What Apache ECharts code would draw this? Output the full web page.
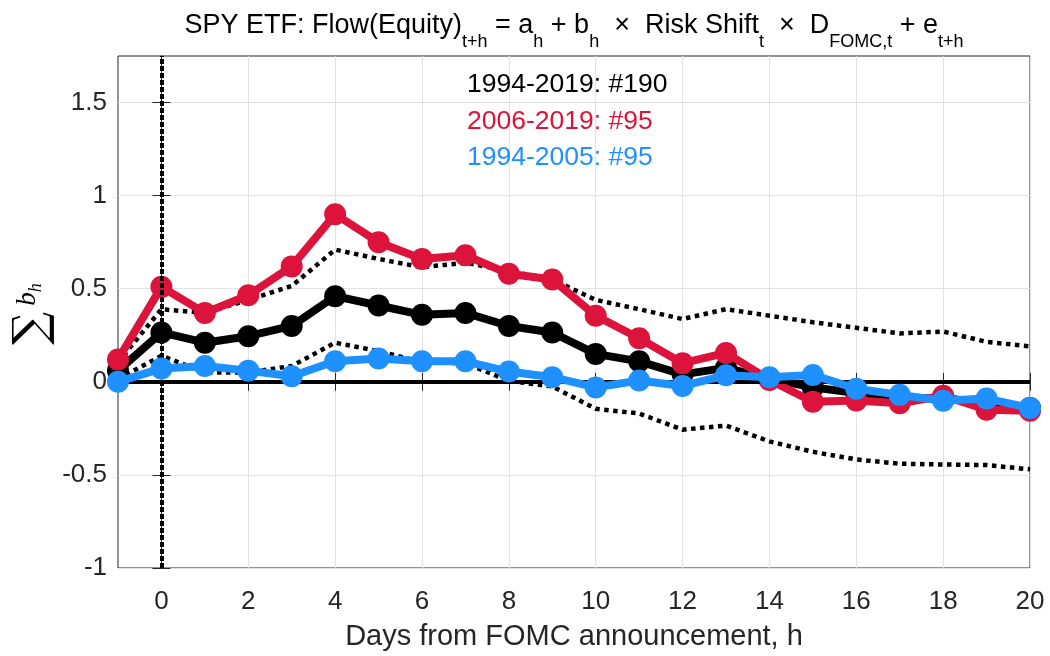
<!DOCTYPE html>
<html>
<head>
<meta charset="utf-8">
<script src="https://cdn.jsdelivr.net/npm/echarts@6/dist/echarts.min.js"></script>
<style>html,body{margin:0;padding:0;background:#fff;}#c{width:1050px;height:656px;}</style>
</head>
<body>
<div id="c"></div>
<script>
const horizons = [-1,0,1,2,3,4,5,6,7,8,9,10,11,12,13,14,15,16,17,18,19,20];
const full19942019 = [0.06,0.265,0.21,0.245,0.30,0.46,0.41,0.36,0.37,0.30,0.265,0.15,0.11,0.04,0.075,0.017,-0.03,-0.06,-0.09,-0.087,-0.115,-0.14];
const upperBand = [0.105,0.39,0.37,0.44,0.515,0.71,0.66,0.615,0.64,0.595,0.55,0.44,0.39,0.337,0.39,0.355,0.32,0.29,0.26,0.27,0.215,0.19];
const lowerBand = [0.015,0.14,0.05,0.05,0.085,0.21,0.165,0.105,0.10,0.005,-0.025,-0.145,-0.17,-0.257,-0.235,-0.32,-0.376,-0.417,-0.44,-0.444,-0.447,-0.47];
const late20062019 = [0.12,0.51,0.37,0.465,0.62,0.90,0.75,0.66,0.68,0.58,0.55,0.355,0.234,0.10,0.155,0.01,-0.107,-0.10,-0.115,-0.075,-0.15,-0.155];
const early19942005 = [0.0,0.072,0.085,0.06,0.03,0.11,0.125,0.11,0.11,0.055,0.025,-0.03,0.007,-0.022,0.035,0.025,0.037,-0.037,-0.07,-0.102,-0.09,-0.14];
const xTickValues = [0,2,4,6,8,10,12,14,16,18,20];
const yTickValues = [-1,-0.5,0,0.5,1,1.5];
const legendLabels = ['1994-2019: #190','2006-2019: #95','1994-2005: #95'];

const RED = '#DC143C', BLUE = '#1E90FF', INK = '#262626';
const pairs = arr => horizons.map((h,i)=>[h,arr[i]]);

const chart = echarts.init(document.getElementById('c'), null, {renderer:'canvas'});
const FONT = 'Liberation Sans';
const option = {
  animation: false,
  backgroundColor: '#fff',
  grid: {left:118, right:20, top:56, bottom:86, show:true, borderColor:INK, borderWidth:1, backgroundColor:'#fff'},
  xAxis: [{
    type:'value', min:-1, max:20, interval:1,
    axisLine:{show:true, lineStyle:{color:INK, width:1}},
    axisTick:{show:true, inside:true, length:9, customValues:xTickValues, lineStyle:{color:INK}},
    axisLabel:{customValues:xTickValues, fontSize:26, fontFamily:FONT, color:INK, margin:21},
    splitLine:{show:true, lineStyle:{color:'#e2e2e2', width:1}},
    name:'Days from FOMC announcement, h', nameLocation:'middle', nameGap:54,
    nameTextStyle:{fontSize:29, fontFamily:FONT, color:INK}
  },{
    type:'value', min:-1, max:20, interval:1, position:'top',
    axisLine:{show:true, lineStyle:{color:INK, width:1}},
    axisTick:{show:true, inside:true, length:9, customValues:xTickValues, lineStyle:{color:INK}},
    axisLabel:{show:false}, splitLine:{show:false}
  }],
  yAxis: [{
    type:'value', min:-1, max:1.75, interval:0.5,
    axisLine:{show:true, lineStyle:{color:INK, width:1}},
    axisTick:{show:true, inside:true, length:9, customValues:yTickValues, lineStyle:{color:INK}},
    axisLabel:{customValues:yTickValues, fontSize:26, fontFamily:FONT, color:INK, margin:11},
    splitLine:{show:true, lineStyle:{color:'#e2e2e2', width:1}}
  },{
    type:'value', min:-1, max:1.75, interval:0.5, position:'right',
    axisLine:{show:true, lineStyle:{color:INK, width:1}},
    axisTick:{show:true, inside:true, length:9, customValues:yTickValues, lineStyle:{color:INK}},
    axisLabel:{show:false}, splitLine:{show:false}
  }],
  series: [
    {type:'line', name:'upper', data:pairs(upperBand), z:2, symbol:'none',
     lineStyle:{color:'#000', width:4.5, type:'dotted'},
     markLine:{silent:true, symbol:'none', label:{show:false}, lineStyle:{color:'#000', width:4, type:'solid'}, data:[{yAxis:0}]}},
    {type:'line', name:'lower', data:pairs(lowerBand), z:2, symbol:'none',
     lineStyle:{color:'#000', width:4.5, type:'dotted'}},
    {type:'line', name:legendLabels[0], data:pairs(full19942019), z:3, symbol:'circle', symbolSize:22,
     lineStyle:{color:'#000', width:8}, itemStyle:{color:'#000', borderWidth:0}},
    {type:'line', name:legendLabels[1], data:pairs(late20062019), z:4, symbol:'circle', symbolSize:22,
     lineStyle:{color:RED, width:8}, itemStyle:{color:RED, borderWidth:0}},
    {type:'line', name:legendLabels[2], data:pairs(early19942005), z:5, symbol:'circle', symbolSize:22,
     lineStyle:{color:BLUE, width:8}, itemStyle:{color:BLUE, borderWidth:0},
     markLine:{silent:true, symbol:'none', label:{show:false}, lineStyle:{color:'#000', width:4, type:[5,2]}, data:[{xAxis:0}]}}
  ],
  graphic: [
    {type:'text', left:467, top:71, z:100, style:{text:legendLabels[0], fill:'#000', font:'26.5px '+FONT}},
    {type:'text', left:467, top:108, z:100, style:{text:legendLabels[1], fill:RED, font:'26.5px '+FONT}},
    {type:'text', left:467, top:144, z:100, style:{text:legendLabels[2], fill:BLUE, font:'26.5px '+FONT}},
    {type:'text', x:574, y:12, z:100, style:{
      text:'{m|SPY ETF: Flow(Equity)}{s|t+h}{m| = a}{s|h}{m| + b}{s|h}{m|  \u00d7  Risk Shift}{s|t}{m|  \u00d7  D}{s|FOMC,t}{m| + e}{s|t+h}',
      align:'center', verticalAlign:'top',
      rich:{ m:{fontSize:27, fontFamily:FONT, fill:'#000', lineHeight:30, verticalAlign:'top'},
             s:{fontSize:18, fontFamily:FONT, fill:'#000', lineHeight:18, verticalAlign:'top', padding:[21,0,0,0]} }
    }},
    {type:'text', x:33, y:314, rotation:Math.PI/2, z:100, style:{
      text:'{S|\u2211}{b|b}{h|h}', align:'center', verticalAlign:'middle',
      rich:{ S:{fontSize:46, fontFamily:'DejaVu Serif', fill:'#000', lineHeight:50, verticalAlign:'middle'},
             b:{fontSize:27, fontFamily:'Liberation Serif', fontStyle:'italic', fill:'#000', lineHeight:27, verticalAlign:'middle', padding:[0,0,10,6]},
             h:{fontSize:18, fontFamily:'Liberation Serif', fontStyle:'italic', fill:'#000', lineHeight:18, verticalAlign:'middle', padding:[6,0,0,0]} }
    }}
  ]
};
chart.setOption(option);
</script>
</body>
</html>
